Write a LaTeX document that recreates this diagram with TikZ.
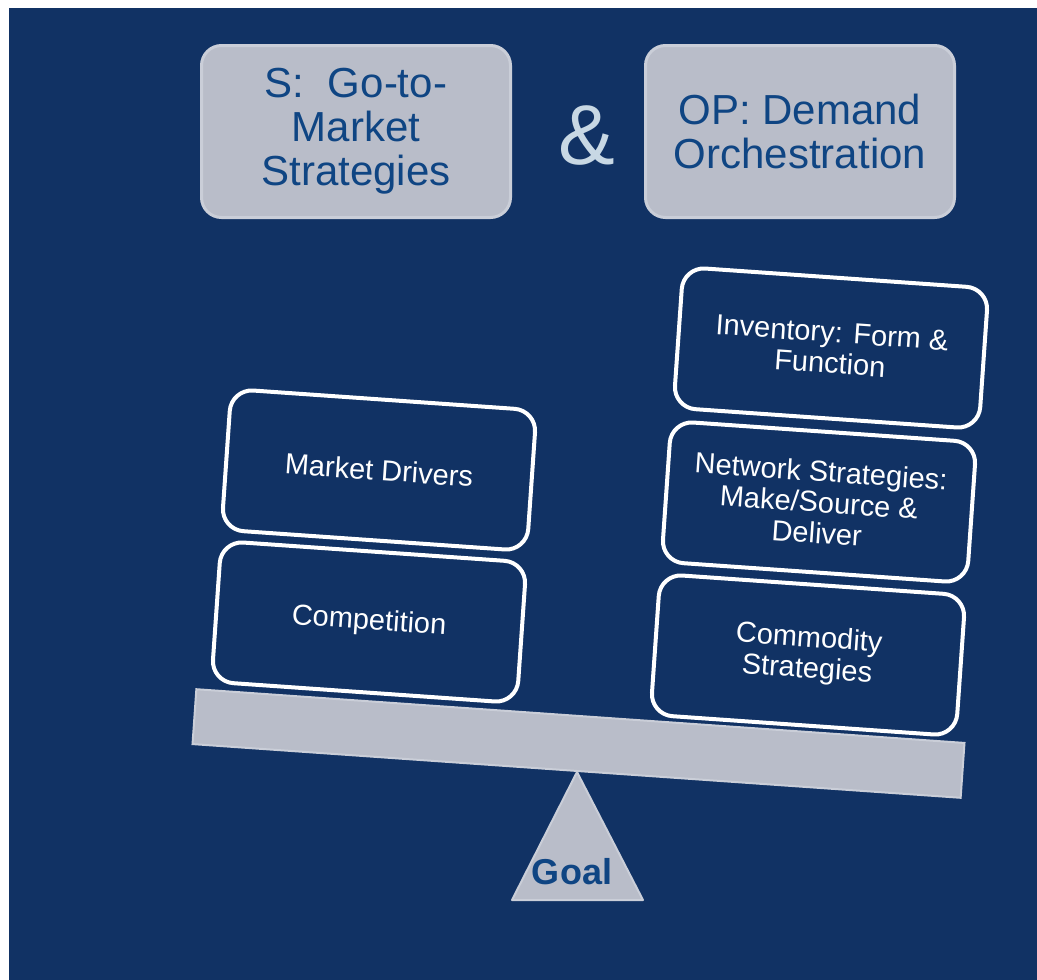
\documentclass[tikz,border=0pt]{standalone}
\usepackage{fontspec}
\setmainfont{Liberation Sans}
\definecolor{bgblue}{HTML}{113264}
\definecolor{boxgray}{HTML}{B9BDC9}
\definecolor{edgegray}{HTML}{CACED8}
\definecolor{txtblue}{HTML}{0F4583}
\definecolor{ampblue}{HTML}{C8D8E4}

\begin{document}
\begin{tikzpicture}
		[x=1pt,y=-1pt,
		hdr/.style= {rounded corners=20pt,line width=3pt,draw=edgegray,fill=boxgray,minimum width=309pt,minimum height=172pt,align=center,text=txtblue,font=\fontsize{42}{44}\selectfont},
		blk/.style= {rounded corners=22pt,line width=4pt,draw=white,minimum width=306pt,minimum height=141pt,align=center,text=white,font=\fontsize{29}{31}\selectfont,rotate=-4},
		beam/.style= {line width=2pt,draw=edgegray,fill=boxgray,minimum width=770pt,minimum height=55pt,inner sep=0pt,rotate=-4},
		pivot/.style= {line width=2pt,draw=edgegray,fill=boxgray,line join=round}]

		\useasboundingbox (0,0) rectangle (1037,980);
		\fill[white] (0,0) rectangle (1037,980);
		\fill[bgblue] (9,8) rectangle (1037,980);

		\node[hdr] (gtm) at (356,131.5) {S:\ \ Go-to-\\Market\\Strategies};
		\node[font=\fontsize{85}{85}\selectfont,text=ampblue] (amp) at (587,136) {\&};
		\node[hdr] (dem) at (800,131.5) {OP: Demand\\Orchestration};

		\draw[pivot] (577,772) -- (643,900) -- (512,900) -- cycle;
		\node[font=\bfseries\fontsize{36}{40}\selectfont,text=txtblue] (goal) at (572,872) {Goal};

		\node[beam] (bar) at (578.5,743.5) {};

		\node[blk] (comp) at (369,622) {Competition};
		\node[blk] (drv) at (379,470) {Market Drivers};

		\node[blk] (cmd) at (808,655) {Commodity\\Strategies};
		\node[blk] (net) at (819,502) {Network Strategies:\\Make/Source \&\\Deliver};
		\node[blk] (inv) at (831,348) {Inventory: Form \&\\Function};

	\end{tikzpicture}
\end{document}
